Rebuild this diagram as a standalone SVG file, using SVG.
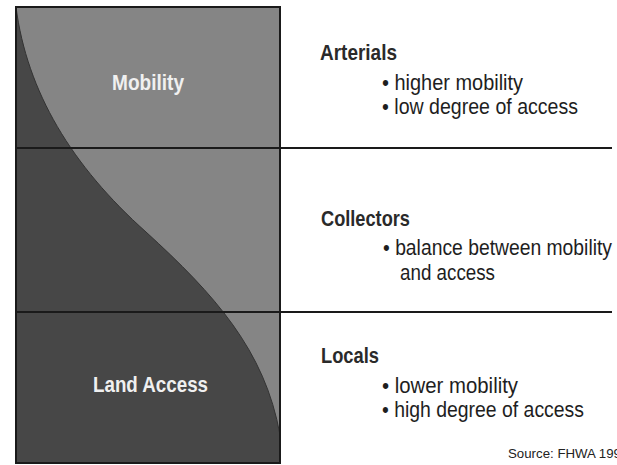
<svg xmlns="http://www.w3.org/2000/svg" width="617" height="465" viewBox="0 0 617 465">
  <style>
    .cond { font-family: "Liberation Sans", Arial, sans-serif; }
    .panel-label { font-size: 22px; font-weight: bold; fill: #f0f0f0; }
    .class-head { font-size: 22px; font-weight: bold; fill: #2a2a2a; }
    .bullet { font-size: 22px; fill: #1e1e1e; }
    .source { font-family: "Liberation Sans", Arial, sans-serif; font-size: 13px; fill: #222; }
    .rule { stroke: #1a1a1a; stroke-width: 2; fill: none; }
  </style>

  <rect width="617" height="465" fill="#ffffff"/>

  <!-- mobility / access panel: light area = mobility, dark area = land access -->
  <g id="panel">
    <rect x="16" y="7" width="264" height="456" fill="#474747"/>
    <path d="M16,7 C27,92 72,166 146,232 C214,294 265,350 280,435 L280,7 Z" fill="#858585"/>
    <path d="M16,7 C27,92 72,166 146,232 C214,294 265,350 280,435" fill="none" stroke="#333" stroke-width="1"/>
    <rect x="16" y="7" width="264" height="456" class="rule"/>
  </g>

  <!-- section dividers -->
  <g id="dividers">
    <line x1="16" y1="148" x2="612" y2="148" class="rule"/>
    <line x1="16" y1="312" x2="612" y2="312" class="rule"/>
  </g>

  <g id="mobility">
    <text x="112" y="90" class="cond panel-label" textLength="72" lengthAdjust="spacingAndGlyphs">Mobility</text>
  </g>
  <g id="land-access">
    <text x="93" y="392" class="cond panel-label" textLength="115" lengthAdjust="spacingAndGlyphs">Land Access</text>
  </g>

  <g id="arterials">
    <text x="320" y="60" class="cond class-head" textLength="77" lengthAdjust="spacingAndGlyphs">Arterials</text>
    <text x="382" y="90" class="cond bullet" textLength="141" lengthAdjust="spacingAndGlyphs">• higher mobility</text>
    <text x="382" y="114" class="cond bullet" textLength="196" lengthAdjust="spacingAndGlyphs">• low degree of access</text>
  </g>

  <g id="collectors">
    <text x="321" y="226" class="cond class-head" textLength="89" lengthAdjust="spacingAndGlyphs">Collectors</text>
    <text x="383" y="255" class="cond bullet" textLength="229" lengthAdjust="spacingAndGlyphs">• balance between mobility</text>
    <text x="400" y="280" class="cond bullet" textLength="95" lengthAdjust="spacingAndGlyphs">and access</text>
  </g>

  <g id="locals">
    <text x="321" y="363" class="cond class-head" textLength="58" lengthAdjust="spacingAndGlyphs">Locals</text>
    <text x="382" y="393" class="cond bullet" textLength="136" lengthAdjust="spacingAndGlyphs">• lower mobility</text>
    <text x="382" y="417" class="cond bullet" textLength="202" lengthAdjust="spacingAndGlyphs">• high degree of access</text>
  </g>

  <g id="source">
    <text x="508" y="458" class="source" textLength="113" lengthAdjust="spacingAndGlyphs">Source: FHWA 199</text>
  </g>
</svg>
